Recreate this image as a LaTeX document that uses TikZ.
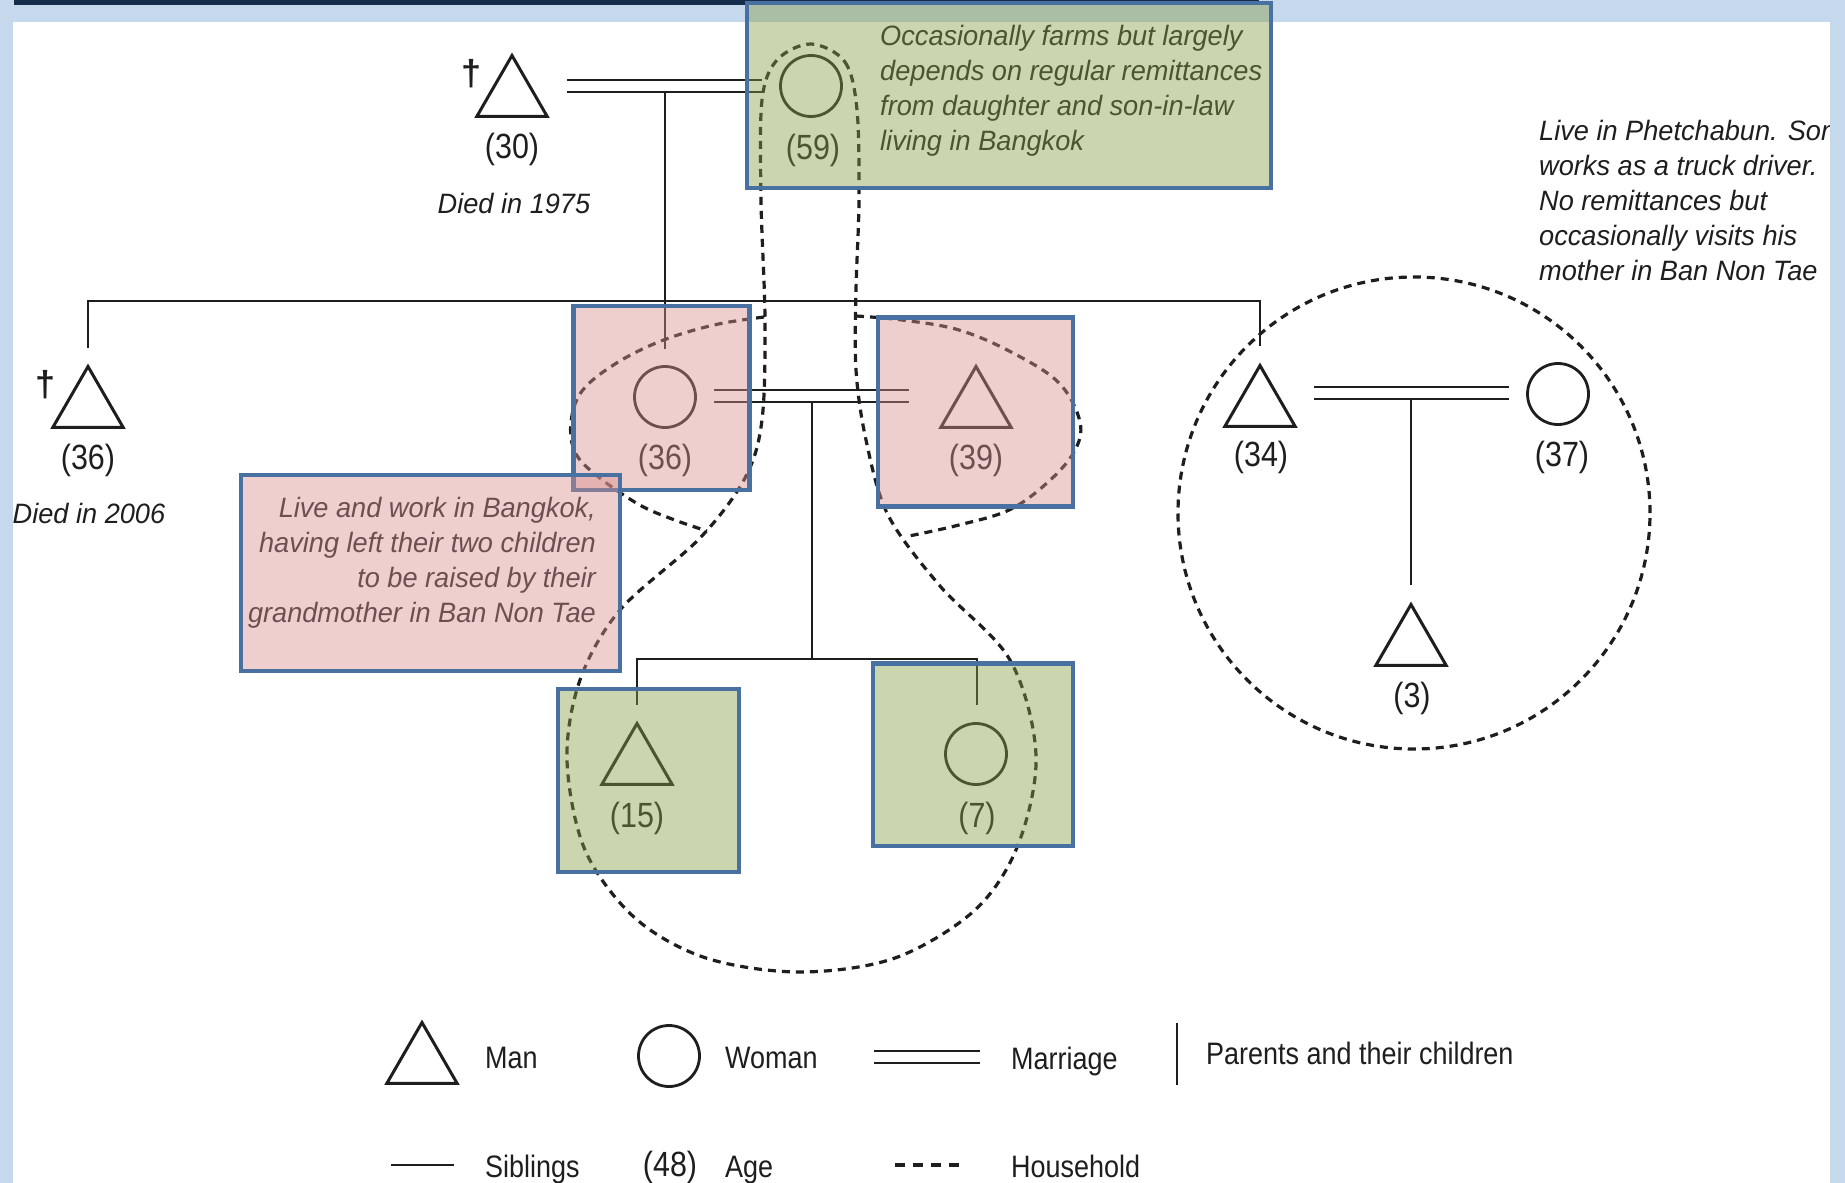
\documentclass[tikz,border=0pt]{standalone}
\usepackage{fontspec}
\setmainfont{Liberation Sans}
\newfontfamily\narrowsf{Liberation Sans}[FakeStretch=0.87]
\newfontfamily\notesf{Liberation Sans}[FakeStretch=0.97]
\usetikzlibrary{shapes.geometric}

\definecolor{frameblue}{RGB}{197,216,236}
\definecolor{barnavy}{RGB}{20,45,75}
\definecolor{edgeblue}{RGB}{72,113,162}
\definecolor{tintgreen}{RGB}{135,158,72}
\definecolor{tintpink}{RGB}{218,143,143}
\definecolor{ink}{RGB}{30,30,30}

\newcommand{\agefont}{\narrowsf\fontsize{35}{40}\selectfont}
\newcommand{\keyfont}{\narrowsf\fontsize{31}{36}\selectfont}
\newcommand{\notefont}{\notesf\itshape\fontsize{28}{35}\selectfont}

\begin{document}
\begin{tikzpicture}[x=1pt, y=-1pt,
  man/.style={draw=ink, regular polygon, regular polygon sides=3, minimum size=81pt, inner sep=0pt, line width=3pt},
  woman/.style={draw=ink, circle, minimum size=61pt, inner sep=0pt, line width=2.8pt},
  age/.style={font=\agefont, text=ink, inner sep=0pt},
  note/.style={font=\notefont, text=ink, inner sep=0pt},
  keytext/.style={font=\keyfont, text=ink, inner sep=0pt, anchor=base west},
  dagger/.style={font=\bfseries\fontsize{36}{40}\selectfont, text=ink, inner sep=0pt},
  kin/.style={draw=ink, line width=2.2pt},
  wed/.style={draw=ink, double=white, double distance=10pt, line width=2.3pt},
  hhold/.style={draw=ink, line width=3.2pt, dash pattern=on 8pt off 6pt},
  greenbox/.style={draw=edgeblue, line width=4.5pt, fill=tintgreen, fill opacity=0.43},
  pinkbox/.style={draw=edgeblue, line width=4.5pt, fill=tintpink, fill opacity=0.43}
]
\useasboundingbox (0,0) rectangle (1845,1183);
% frame
\fill[frameblue] (0,0) rectangle (1845,1183);
\fill[white] (13,22) rectangle (1830,1183);
\fill[barnavy] (14,0) rectangle (1259,5);

% kinship lines
\coordinate (gpwedW) at (567,86);
\coordinate (gpwedE) at (762,86);
\coordinate (gpkids) at (665,92);
\coordinate (mumtop) at (665,349);
\coordinate (sibW) at (88,301);
\coordinate (sibE) at (1260,301);
\coordinate (uncletop) at (88,348);
\coordinate (rsontop) at (1260,346);
\coordinate (pwedW) at (714,396);
\coordinate (pwedE) at (909,396);
\coordinate (pkids) at (812,402);
\coordinate (kidsbar) at (812,659);
\coordinate (kidsW) at (637,659);
\coordinate (kidsE) at (977,659);
\coordinate (boytop) at (637,705);
\coordinate (girltop) at (977,705);
\coordinate (rwedW) at (1314,393);
\coordinate (rwedE) at (1509,393);
\coordinate (rkids) at (1411,399);
\coordinate (rkidtop) at (1411,585);

\draw[wed] (gpwedW) -- (gpwedE);
\draw[kin] (gpkids) -- (mumtop);
\draw[kin] (uncletop) -- (sibW) -- (sibE) -- (rsontop);
\draw[wed] (pwedW) -- (pwedE);
\draw[kin] (pkids) -- (kidsbar);
\draw[kin] (boytop) -- (kidsW) -- (kidsE) -- (girltop);
\draw[wed] (rwedW) -- (rwedE);
\draw[kin] (rkids) -- (rkidtop);

% people
\node[man] (gf) at (512,96) {};
\node[dagger] (gfdag) at (472,74) {†};
\node[age] (gfage) at (512,149) {(30)};
\node[note, anchor=base] (gfdied) at (514,213) {Died in 1975};
\node[woman] (gm) at (811,86) {};
\node[age] (gmage) at (813,150) {(59)};

\node[man] (uncle) at (88,407) {};
\node[dagger] (uncledag) at (46,385) {†};
\node[age] (uncleage) at (88,460) {(36)};
\node[note, anchor=base] (uncledied) at (89,523) {Died in 2006};
\node[woman] (mum) at (665,397) {};
\node[age] (mumage) at (665,460) {(36)};
\node[man] (dad) at (976,407) {};
\node[age] (dadage) at (976,460) {(39)};
\node[man] (rson) at (1260,406) {};
\node[age] (rsonage) at (1261,457) {(34)};
\node[woman] (rwife) at (1558,394) {};
\node[age] (rwifeage) at (1562,457) {(37)};
\node[man] (rkid) at (1411,645) {};
\node[age] (rkidage) at (1412,698) {(3)};

\node[man] (boy) at (637,764) {};
\node[age] (boyage) at (637,818) {(15)};
\node[woman] (girl) at (976,754) {};
\node[age] (girlage) at (977,818) {(7)};

% notes
\node[note, anchor=north west, align=left] (gmnote) at (880,24.7)
  {Occasionally farms but largely\\depends on regular remittances\\from daughter and son-in-law\\living in Bangkok};
\node[note, anchor=north east, align=right] (bkknote) at (596,496.7)
  {Live and work in Bangkok,\\having left their two children\\to be raised by their\\grandmother in Ban Non Tae};
\node[note, anchor=north west, align=left] (phnote) at (1539,119.7)
  {Live in Phetchabun. Son\\works as a truck driver.\\No remittances but\\occasionally visits his\\mother in Ban Non Tae};

% households
\draw[hhold] plot[smooth cycle, tension=0.55] coordinates {
  (811,44) (845,62) (857,110) (859,200) (856,290) (856,370) (866,440)
  (888,515) (940,586) (1010,660) (1036,755) (1018,845) (975,910)
  (895,958) (800,972) (706,958) (635,918) (585,850) (567,760) (580,680)
  (620,610) (700,538) (745,478) (762,420) (765,320) (761,200) (762,100)
  (777,60)};
\draw[hhold] plot[smooth, tension=0.6] coordinates {
  (764,317) (714,325) (661,341) (615,364) (582,391) (571,422) (575,452)
  (596,475) (638,504) (672,519) (707,531)};
\draw[hhold] plot[smooth, tension=0.6] coordinates {
  (856,316) (902,320) (959,330) (1013,353) (1059,383) (1080,422)
  (1074,452) (1047,483) (1009,510) (959,525) (909,536)};
\draw[hhold] (1414,513) circle[radius=236pt];

% tinted boxes
\draw[greenbox] (747,3) rectangle (1271,188);
\draw[pinkbox] (573.5,306) rectangle (749.5,490);
\draw[pinkbox] (878,317.5) rectangle (1073,506.5);
\draw[pinkbox] (241,475) rectangle (620,671);
\draw[greenbox] (558,689) rectangle (739,872);
\draw[greenbox] (873,663.5) rectangle (1073,846);

% key
\coordinate (keywedW) at (874,1057);
\coordinate (keywedE) at (980,1057);
\coordinate (keybarN) at (1177,1023);
\coordinate (keybarS) at (1177,1085);
\coordinate (keysibW) at (391,1165);
\coordinate (keysibE) at (454,1165);
\coordinate (keyhhW) at (895,1165);
\coordinate (keyhhE) at (959,1165);
\node[man] (keyman) at (422,1063) {};
\node[keytext] (keymanlbl) at (485,1068) {Man};
\node[woman] (keywoman) at (669,1056) {};
\node[keytext] (keywomanlbl) at (725,1068) {Woman};
\draw[wed] (keywedW) -- (keywedE);
\node[keytext] (keywedlbl) at (1011,1069) {Marriage};
\draw[kin, line width=2.6pt] (keybarN) -- (keybarS);
\node[keytext] (keybarlbl) at (1206,1064) {Parents and their children};
\draw[kin, line width=2.6pt] (keysibW) -- (keysibE);
\node[keytext] (keysiblbl) at (485,1177) {Siblings};
\node[age] (keyage) at (670,1167) {(48)};
\node[keytext] (keyagelbl) at (725,1177) {Age};
\draw[hhold, dash pattern=on 10pt off 8pt] (keyhhW) -- (keyhhE);
\node[keytext] (keyhhlbl) at (1011,1177) {Household};

% right edge of the frame
\fill[frameblue] (1830,0) rectangle (1845,1183);
\end{tikzpicture}
\end{document}
